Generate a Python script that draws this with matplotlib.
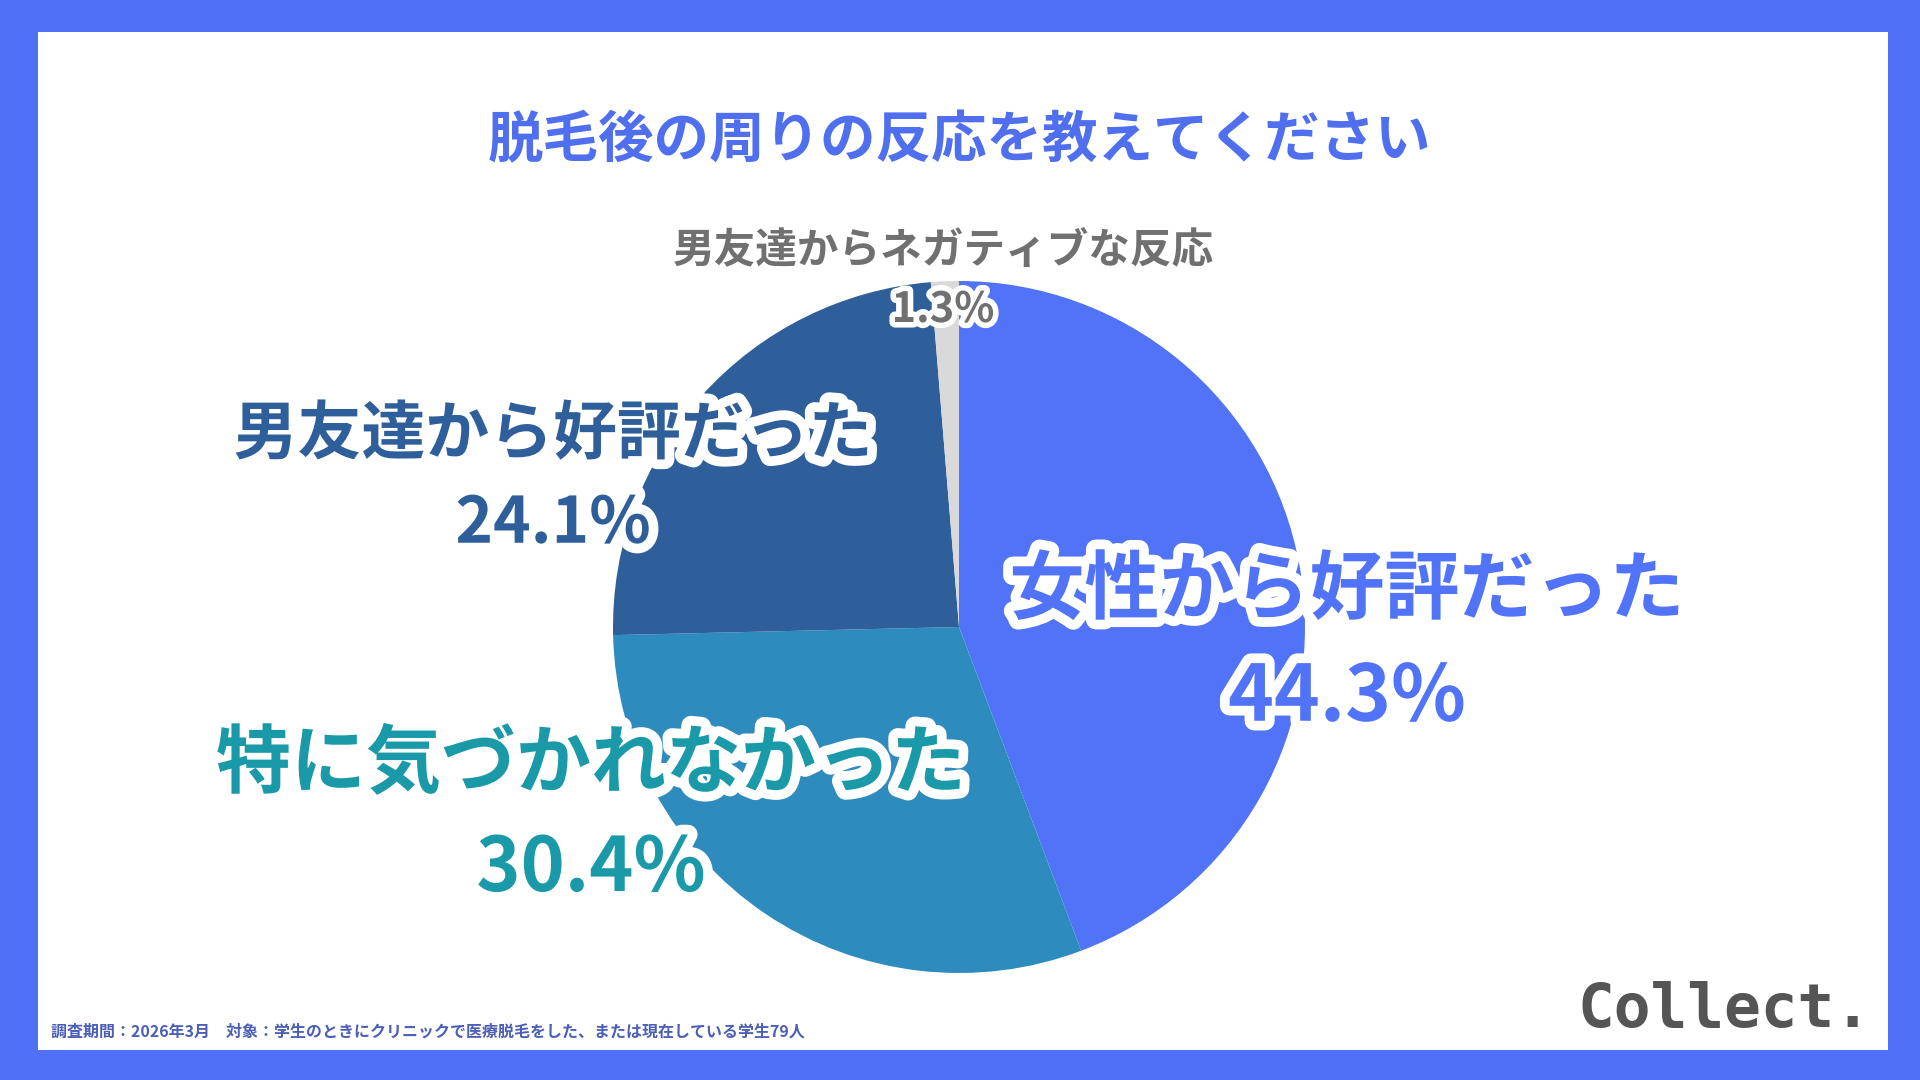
import matplotlib
matplotlib.use("Agg")
import matplotlib.pyplot as plt
import matplotlib.patheffects as pe
from matplotlib.patches import Rectangle

plt.rcParams['font.family'] = ['Noto Sans CJK JP', 'DejaVu Sans']

title = "脱毛後の周りの反応を教えてください"
labels = ["女性から好評だった", "特に気づかれなかった", "男友達から好評だった", "男友達からネガティブな反応"]
values = [44.3, 30.4, 24.1, 1.3]
slice_colors = ["#5073F7", "#2E8BBE", "#2E5F9A", "#D9D9D9"]
text_colors = ["#5073F7", "#1A9AA8", "#2E5F9A", "#707070"]
note = "調査期間：2026年3月　対象：学生のときにクリニックで医療脱毛をした、または現在している学生79人"

W, H = 1920, 1080
fig = plt.figure(figsize=(19.2, 10.8), dpi=100)
fig.patch.set_facecolor("#5070F8")
fig.patches.append(Rectangle((38 / W, 1 - 1050 / H), (1888 - 38) / W, (1050 - 32) / H,
                             transform=fig.transFigure, facecolor="white", edgecolor="none",
                             zorder=-5))

# pie: centre (959, 627) px from top, radius 346 px
cx, cy, r = 959, 627, 346
ax = fig.add_axes([(cx - r) / W, (H - cy - r) / H, 2 * r / W, 2 * r / H])
ax.set_zorder(1)
ax.pie(values, colors=slice_colors, startangle=90, counterclock=False, radius=1,
       wedgeprops=dict(linewidth=0))
ax.set_xlim(-1, 1)
ax.set_ylim(-1, 1)
ax.set_aspect("equal")
ax.axis("off")


def put(x, y, s, size, color, stroke=0, **kw):
    t = fig.text(x / W, 1 - y / H, s, fontsize=size, color=color, fontweight="bold",
                 ha="center", va="center", zorder=10, **kw)
    if stroke:
        t.set_path_effects([pe.withStroke(linewidth=stroke, foreground="white")])
    return t


put(959, 141, title, 40, "#4F6FEE")

# label positions (centre px) for name and percent
name_pos = [(1347, 591), (591, 765), (553, 435), (943, 251)]
pct_pos = [(1347, 698), (591, 869), (553, 524), (943, 310)]
name_size = [54, 54, 46, 30]
pct_size = [56, 54, 46, 30]
for i in range(len(values)):
    st = 14 if i < 3 else 8
    put(name_pos[i][0], name_pos[i][1], labels[i], name_size[i], text_colors[i],
        stroke=st if i < 3 else 0)
    put(pct_pos[i][0], pct_pos[i][1], f"{values[i]}%", pct_size[i], text_colors[i], stroke=st)

fig.text(51 / W, 1 - 1032 / H, note, fontsize=11.5, color="#4A5FB5", ha="left", va="center",
         fontweight="bold")
fig.text(1872 / W, 1 - 1011 / H, "Collect.", fontsize=44, color="#555555", ha="right",
         va="center", fontweight="bold", family="DejaVu Sans Mono")

fig.savefig("out.png", dpi=100, facecolor=fig.get_facecolor())
